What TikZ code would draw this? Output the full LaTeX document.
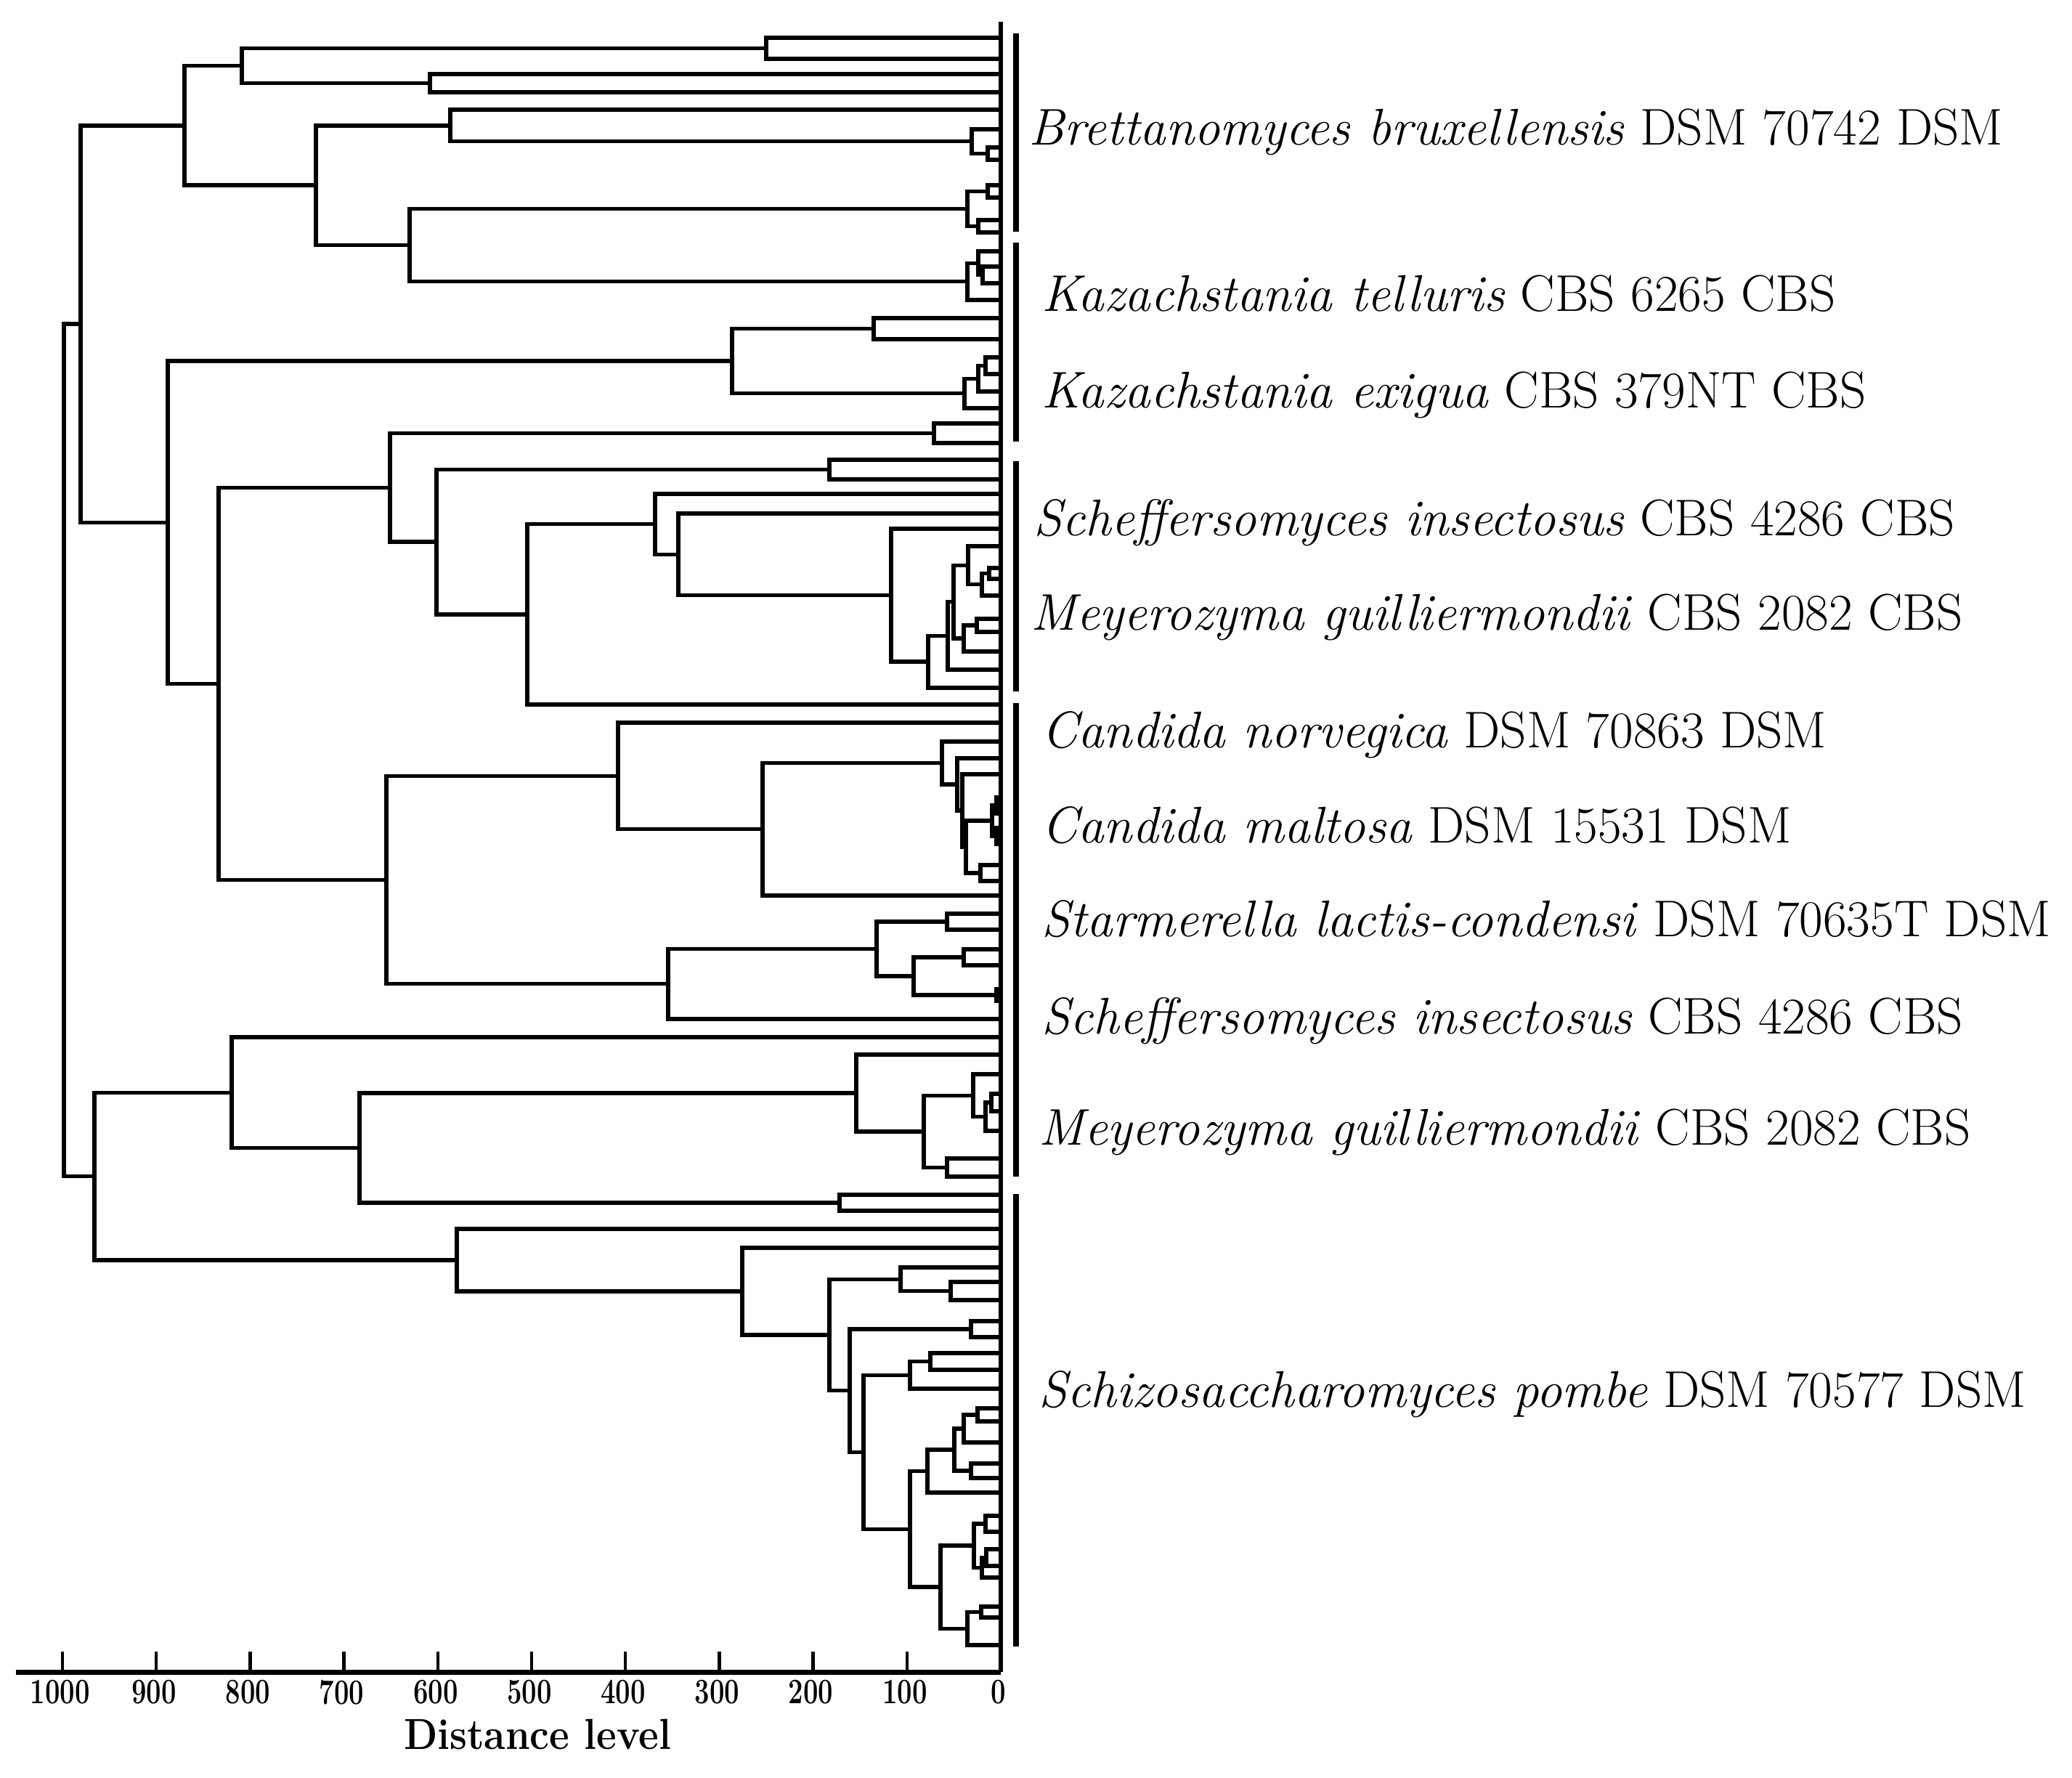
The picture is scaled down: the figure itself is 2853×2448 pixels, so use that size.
\documentclass[tikz,border=0pt]{standalone}
\usetikzlibrary{calc}
\tikzset{
  br/.style={line width=1.55pt, line join=miter},
  axisline/.style={line width=2pt},
  tickline/.style={line width=1.3pt},
  grpbar/.style={line width=2.4pt},
  lab/.style={anchor=base west, inner sep=0pt, font=\fontsize{20.2}{24}\selectfont},
  num/.style={anchor=center, inner sep=0pt, font=\fontsize{14}{16}\selectfont\bfseries},
  ttl/.style={anchor=center, inner sep=0pt, font=\fontsize{17}{20}\selectfont\bfseries},
}
\newcommand\joinnodes[4]{%
  \coordinate (tmp) at ($(#3)!0.5!(#4)$);
  \coordinate (#1) at (#2,0 |- tmp);
  \draw[br] (#3) -| (#1) |- (#4);}
\begin{document}
\begin{tikzpicture}[x=0.01cm,y=-0.01cm]
\useasboundingbox (0,0) rectangle (2853,2448);
% leaves
\foreach \v in {52,81,102,127,151,178,203,220,255,272,303,320,346,367,390,413,
  438,467,492,515,539,562,
  583,610,633,660,680,707,728,752,782,797,820,852,870,897,922,947,970,
  995,1021,1044,1066,1098,1120,1140,1162,1191,1213,1233,
  1258,1280,1307,1329,1362,1378,1403,
  1428,1452,1479,1506,1530,1557,1595,1620,1645,1667,
  1692,1718,1745,1765,1790,1819,1841,1863,1886,1912,1939,1957,1986,2015,2035,2055,
  2087,2109,2133,2156,2172,2212,2227,2265}
  {\coordinate (y\v) at (1378,\v);}
% top clade
\joinnodes{X1}{1055}{y52}{y81}
\joinnodes{X2}{592}{y102}{y127}
\joinnodes{X3}{333}{X1}{X2}
\joinnodes{X4a}{1360}{y203}{y220}
\joinnodes{X4}{1338}{y178}{X4a}
\joinnodes{X5}{620}{y151}{X4}
\joinnodes{X6a}{1360}{y255}{y272}
\joinnodes{X6b}{1347}{y303}{y320}
\joinnodes{X6}{1332}{X6a}{X6b}
\joinnodes{X7a}{1353}{y367}{y390}
\joinnodes{X7b}{1347}{y346}{X7a}
\joinnodes{X7}{1332}{X7b}{y413}
\joinnodes{X8}{564}{X6}{X7}
\joinnodes{X9}{435}{X5}{X8}
\joinnodes{X10}{254}{X3}{X9}
% Kazachstania
\joinnodes{Y1}{1203}{y438}{y467}
\joinnodes{Y2a}{1357}{y492}{y515}
\joinnodes{Y2b}{1347}{Y2a}{y539}
\joinnodes{Y2}{1328}{Y2b}{y562}
\joinnodes{Y3}{1008}{Y1}{Y2}
% Scheffersomyces / Meyerozyma
\joinnodes{Z1}{1286}{y583}{y610}
\joinnodes{Z2}{1142}{y633}{y660}
\joinnodes{Ma}{1362}{y782}{y797}
\joinnodes{Mb}{1352}{Ma}{y820}
\joinnodes{Mc}{1333}{y752}{Mb}
\joinnodes{Me}{1345}{y852}{y870}
\joinnodes{Mf}{1327}{Me}{y897}
\joinnodes{Mg}{1313}{Mc}{Mf}
\joinnodes{Mh}{1305}{Mg}{y922}
\joinnodes{Mi}{1278}{Mh}{y947}
\joinnodes{Mj}{1227}{y728}{Mi}
\joinnodes{Mk}{934}{y707}{Mj}
\joinnodes{Ml}{902}{y680}{Mk}
\joinnodes{Mm}{726}{Ml}{y970}
\joinnodes{Mn}{601}{Z2}{Mm}
\joinnodes{Mo}{537}{Z1}{Mn}
% Candida
\joinnodes{Cp1}{1372}{y1098}{y1120}
\joinnodes{Cp2}{1372}{y1140}{y1162}
\joinnodes{Cp}{1366}{Cp1}{Cp2}
\joinnodes{Cq}{1350}{y1191}{y1213}
\joinnodes{Cs}{1330}{Cp}{Cq}
\joinnodes{Cr}{1325}{y1066}{Cs}
\joinnodes{Ct}{1318}{y1044}{Cr}
\joinnodes{Cu}{1297}{y1021}{Ct}
\joinnodes{Cv}{1050}{Cu}{y1233}
\joinnodes{Cw}{851}{y995}{Cv}
% Starmerella / Scheffersomyces
\joinnodes{Sfa}{1304}{y1258}{y1280}
\joinnodes{Sfb}{1327}{y1307}{y1329}
\joinnodes{Sfc}{1372}{y1362}{y1378}
\joinnodes{Sfd}{1258}{Sfb}{Sfc}
\joinnodes{Sfe}{1207}{Sfa}{Sfd}
\joinnodes{Sff}{920}{Sfe}{y1403}
\joinnodes{Gf}{532}{Cw}{Sff}
\joinnodes{ZZ}{301}{Mo}{Gf}
\joinnodes{YY}{231}{Y3}{ZZ}
\joinnodes{TT}{111}{X10}{YY}
% Meyerozyma 2
\joinnodes{Ec1}{1365}{y1506}{y1530}
\joinnodes{Ec}{1357}{Ec1}{y1557}
\joinnodes{Ed}{1340}{y1479}{Ec}
\joinnodes{Ee}{1304}{y1595}{y1620}
\joinnodes{Ef}{1272}{Ed}{Ee}
\joinnodes{Eg}{1179}{y1452}{Ef}
\joinnodes{Eh}{1156}{y1645}{y1667}
\joinnodes{Ei}{495}{Eg}{Eh}
\joinnodes{Ej}{319}{y1428}{Ei}
% Schizosaccharomyces
\joinnodes{Sk}{1309}{y1765}{y1790}
\joinnodes{Sl}{1240}{y1745}{Sk}
\joinnodes{Sm}{1337}{y1819}{y1841}
\joinnodes{Sn1}{1281}{y1863}{y1886}
\joinnodes{Sn}{1253}{Sn1}{y1912}
\joinnodes{Sq1}{1346}{y1939}{y1957}
\joinnodes{Sq}{1327}{Sq1}{y1986}
\joinnodes{Sr}{1337}{y2015}{y2035}
\joinnodes{Ss}{1314}{Sq}{Sr}
\joinnodes{St}{1277}{Ss}{y2055}
\joinnodes{Sa1}{1357}{y2087}{y2109}
\joinnodes{Sa2}{1358}{y2133}{y2156}
\joinnodes{Sa3}{1352}{Sa2}{y2172}
\joinnodes{Sa4}{1341}{Sa1}{Sa3}
\joinnodes{Sv1}{1351}{y2212}{y2227}
\joinnodes{Sv}{1332}{Sv1}{y2265}
\joinnodes{Sw}{1295}{Sa4}{Sv}
\joinnodes{Sx}{1253}{St}{Sw}
\joinnodes{Sy}{1189}{Sn}{Sx}
\joinnodes{Sz}{1170}{Sm}{Sy}
\joinnodes{Saa}{1142}{Sl}{Sz}
\joinnodes{Sbb}{1022}{y1718}{Saa}
\joinnodes{Scc}{629}{y1692}{Sbb}
\joinnodes{DD}{130}{Ej}{Scc}
\joinnodes{RR}{88}{TT}{DD}
% leaf baseline
\coordinate (leaftop) at (1378,30);
\coordinate (ax0) at (1378,2302);
\coordinate (axL) at (22,2302);
\draw[br] (leaftop) -- (ax0);
% axis
\draw[axisline] (axL) -- (ax0);
\foreach \k in {0,...,10}{
  \coordinate (tk\k) at ({1378-129.2*\k},2302);
  \coordinate (tt\k) at ({1378-129.2*\k},2274);
  \draw[tickline] (tk\k) -- (tt\k);
  \pgfmathtruncatemacro{\lbl}{100*\k}
  \node[num] (nm\k) at ({1378-129.2*\k-3},2330) {\scalebox{0.74}[1]{\lbl}};
}
\node[ttl] (title) at (740,2388) {\scalebox{0.9}[1]{Distance level}};
% group bars
\coordinate (b1t) at (1399,46);   \coordinate (b1b) at (1399,319);
\coordinate (b2t) at (1399,334);  \coordinate (b2b) at (1399,608);
\coordinate (b3t) at (1399,635);  \coordinate (b3b) at (1399,952);
\coordinate (b4t) at (1399,968);  \coordinate (b4b) at (1399,1620);
\coordinate (b5t) at (1399,1644); \coordinate (b5b) at (1399,2267);
\draw[grpbar] (b1t) -- (b1b);
\draw[grpbar] (b2t) -- (b2b);
\draw[grpbar] (b3t) -- (b3b);
\draw[grpbar] (b4t) -- (b4b);
\draw[grpbar] (b5t) -- (b5b);
% labels
\node[lab] (l1) at (1416,199) {\textit{Brettanomyces bruxellensis} DSM 70742 DSM};
\node[lab] (l2) at (1434,428) {\textit{Kazachstania telluris} CBS 6265 CBS};
\node[lab] (l3) at (1434,561) {\textit{Kazachstania exigua} CBS 379NT CBS};
\node[lab] (l4) at (1423,737) {\textit{Scheffersomyces insectosus} CBS 4286 CBS};
\node[lab] (l5) at (1419,867) {\textit{Meyerozyma guilliermondii} CBS 2082 CBS};
\node[lab] (l6) at (1434,1029) {\textit{Candida norvegica} DSM 70863 DSM};
\node[lab] (l7) at (1434,1160) {\textit{Candida maltosa} DSM 15531 DSM};
\node[lab] (l8) at (1434,1289) {\textit{Starmerella lactis-condensi} DSM 70635T DSM};
\node[lab] (l9) at (1434,1423) {\textit{Scheffersomyces insectosus} CBS 4286 CBS};
\node[lab] (l10) at (1430,1576) {\textit{Meyerozyma guilliermondii} CBS 2082 CBS};
\node[lab] (l11) at (1430,1937) {\textit{Schizosaccharomyces pombe} DSM 70577 DSM};
\end{tikzpicture}
\end{document}
